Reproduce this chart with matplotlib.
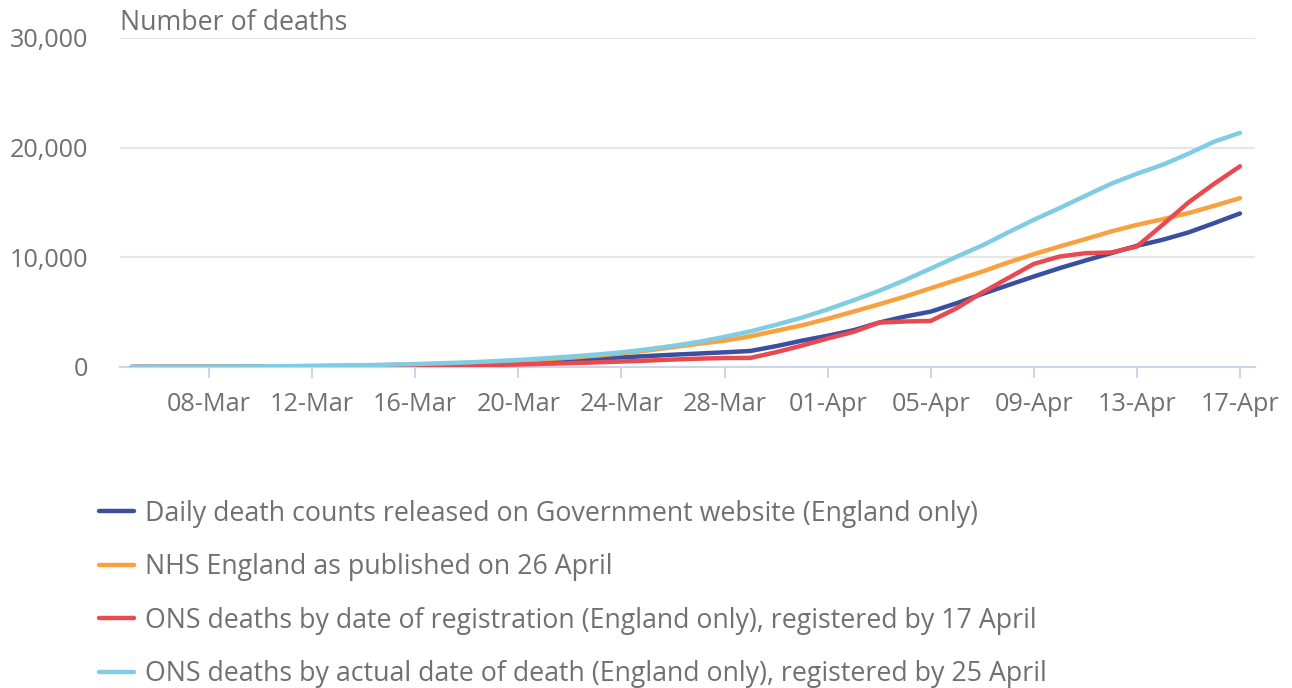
import pandas as pd
import matplotlib
matplotlib.use("Agg")
import matplotlib.pyplot as plt
import matplotlib.dates as mdates
from matplotlib.ticker import FuncFormatter

plt.rcParams['font.family'] = ['Open Sans', 'DejaVu Sans']

# daily cumulative deaths, 05-Mar to 17-Apr 2020
dates = pd.date_range("2020-03-05", "2020-04-17", freq="D")

gov_daily = [5, 10, 15, 20, 25, 35, 50, 60, 80, 110, 130, 180, 230, 290, 370,
             440, 540, 650, 760, 880, 1000, 1120, 1230, 1340, 1460, 1900, 2400,
             2850, 3350, 4050, 4600, 5050, 5810, 6660, 7460, 8250, 9010, 9710,
             10380, 11050, 11600, 12270, 13120, 14000]

nhs_england = [5, 8, 12, 20, 30, 45, 60, 80, 105, 140, 180, 230, 290, 370, 460,
               570, 700, 850, 1030, 1240, 1500, 1810, 2120, 2400, 2800, 3300,
               3800, 4400, 5050, 5720, 6420, 7180, 7940, 8700, 9530, 10290,
               10990, 11660, 12360, 12960, 13480, 14030, 14700, 15400]

ons_registration = [2, 3, 5, 8, 10, 15, 20, 25, 35, 50, 65, 85, 110, 140, 180,
                    230, 290, 350, 420, 500, 580, 680, 760, 820, 830, 1350, 1950,
                    2600, 3200, 4050, 4150, 4200, 5350, 6790, 8100, 9400, 10070,
                    10380, 10440, 10990, 12970, 15000, 16710, 18300]

ons_death_date = [10, 15, 20, 30, 45, 60, 80, 105, 135, 170, 215, 270, 340, 420,
                  520, 640, 790, 950, 1130, 1340, 1610, 1930, 2290, 2750, 3250,
                  3850, 4500, 5250, 6080, 6950, 7920, 8980, 10050, 11080, 12270,
                  13420, 14490, 15610, 16710, 17620, 18440, 19450, 20550, 21350]

series = [
    ("Daily death counts released on Government website (England only)", gov_daily, "#3a4fa0"),
    ("NHS England as published on 26 April", nhs_england, "#f9a03f"),
    ("ONS deaths by date of registration (England only), registered by 17 April", ons_registration, "#e84a50"),
    ("ONS deaths by actual date of death (England only), registered by 25 April", ons_death_date, "#80cde3"),
]

TEXT = "#707070"
FS_TICK = 18.2
FS_BIG = 19.3

fig = plt.figure(figsize=(12.92, 6.88), dpi=100)
ax = fig.add_axes([120 / 1292, 1 - 367 / 688, (1255 - 120) / 1292, (367 - 38) / 688])

for label, vals, col in series:
    ax.plot(dates, vals, color=col, lw=3.2, label=label, zorder=3,
            solid_joinstyle="round", solid_capstyle="round")

ax.set_ylim(0, 30000)
ax.set_yticks([0, 10000, 20000, 30000])
ax.yaxis.set_major_formatter(FuncFormatter(lambda v, p: f"{int(v):,}"))
ax.set_xlim(pd.Timestamp("2020-03-04 13:00"), pd.Timestamp("2020-04-17 14:00"))
ax.set_xticks(pd.date_range("2020-03-08", "2020-04-17", freq="4D"))
ax.xaxis.set_major_formatter(mdates.DateFormatter("%d-%b"))

ax.grid(axis="y", color="#e6e6e6", lw=1.5, zorder=0)
for s in ["top", "right", "left"]:
    ax.spines[s].set_visible(False)
ax.spines["bottom"].set_color("#ccd6eb")
ax.spines["bottom"].set_linewidth(1.5)
ax.tick_params(axis="y", length=0, pad=23, labelsize=FS_TICK, labelcolor=TEXT)
ax.tick_params(axis="x", length=8, width=1.5, color="#ccd6eb", pad=10,
               labelsize=FS_TICK, labelcolor=TEXT)

fig.text(120 / 1292, 1 - 23 / 688, "Number of deaths", fontsize=FS_BIG, color=TEXT,
         ha="left", va="center")

leg = fig.legend(loc="upper left", bbox_to_anchor=(88 / 1292, 1 - 489 / 688),
                 frameon=False, fontsize=FS_BIG, handlelength=1.3, handletextpad=0.42,
                 labelspacing=0.95, borderaxespad=0)
for t in leg.get_texts():
    t.set_color(TEXT)

fig.savefig("out.png", dpi=100)
